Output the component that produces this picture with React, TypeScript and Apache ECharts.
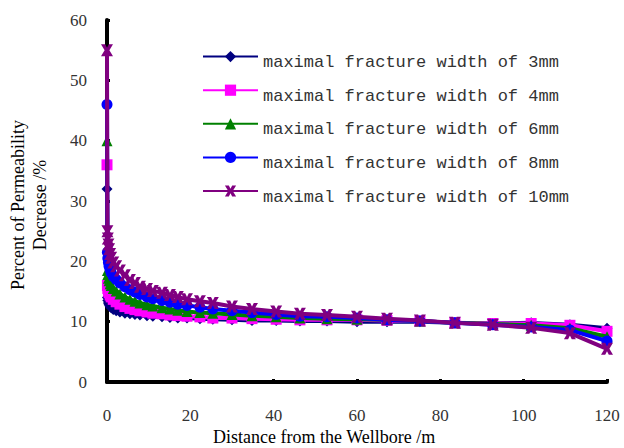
import React, { useEffect, useRef } from "react";
import * as echarts from "echarts";

const distances = [0, 0.1, 0.2, 0.35, 0.5, 0.75, 1.0, 1.5, 2.2, 3.1, 4.3, 5.5, 6.7, 7.9, 9.6, 11, 13.2, 15.1, 17, 19.2, 22.3, 25.4, 30, 34.8, 40.6, 46.3, 52.8, 60, 67.2, 75.1, 83.5, 92.6, 101.8, 111.1, 120];

const width3mm = [32, 14, 13.5, 13.1, 12.8, 12.5, 12.3, 12, 11.8, 11.6, 11.4, 11.3, 11.2, 11.1, 11, 10.9, 10.8, 10.7, 10.6, 10.6, 10.5, 10.4, 10.3, 10.2, 10.2, 10.1, 10.1, 10, 10, 10, 9.8, 9.7, 9.8, 9.5, 8.9];
const width4mm = [36, 16, 15.5, 15.1, 14.8, 14.4, 14.1, 13.7, 13.3, 12.9, 12.5, 12.2, 12, 11.8, 11.6, 11.4, 11.3, 11.1, 11, 10.9, 10.8, 10.6, 10.6, 10.5, 10.4, 10.3, 10.3, 10.3, 10.2, 10.1, 9.8, 9.7, 9.7, 9.4, 8.4];
const width6mm = [40, 18.5, 17.8, 17.2, 16.8, 16.3, 16, 15.5, 15.1, 14.6, 14.1, 13.7, 13.4, 13.1, 12.8, 12.6, 12.3, 12.1, 11.9, 11.7, 11.5, 11.4, 11.2, 11, 10.8, 10.6, 10.5, 10.4, 10.3, 10.1, 9.8, 9.6, 9.4, 8.9, 7.5];
const width8mm = [46, 21.5, 20.5, 19.8, 19.2, 18.6, 18.1, 17.5, 17, 16.4, 15.8, 15.3, 14.9, 14.5, 14.1, 13.8, 13.5, 13.2, 12.9, 12.7, 12.4, 12.1, 11.8, 11.5, 11.2, 10.9, 10.8, 10.6, 10.3, 10.1, 9.8, 9.5, 9.1, 8.6, 6.8];
const width10mm = [55, 25, 23.8, 22.8, 22, 21.2, 20.6, 19.8, 19.2, 18.5, 17.7, 16.9, 16.4, 15.8, 15.4, 15.1, 14.8, 14.4, 14.1, 13.7, 13.4, 13.1, 12.5, 12.1, 11.7, 11.3, 11.1, 10.8, 10.5, 10.2, 9.8, 9.5, 9.0, 8.1, 5.5];

const seriesNames = [
  "maximal fracture width of 3mm",
  "maximal fracture width of 4mm",
  "maximal fracture width of 6mm",
  "maximal fracture width of 8mm",
  "maximal fracture width of 10mm",
];
const seriesColors = ["#000080", "#ff00ff", "#008000", "#0000ff", "#800080"];
const seriesSymbols = [
  "diamond",
  "rect",
  "triangle",
  "circle",
  "path://M0,0 L3.5,0 L5,3 L6.5,0 L10,0 L7,5 L10,10 L6.5,10 L5,7 L3.5,10 L0,10 L3,5 Z",
];
const seriesValues = [width3mm, width4mm, width6mm, width8mm, width10mm];

const xTicks = { min: 0, max: 120, interval: 20 };
const yTicks = { min: 0, max: 60, interval: 10 };

const serif = "'Liberation Serif', 'Times New Roman', serif";

export default function App() {
  const ref = useRef<HTMLDivElement>(null);
  useEffect(() => {
    if (!ref.current) return;
    const chart = echarts.init(ref.current, null, { renderer: "svg" });
    const axisLabel = { fontFamily: serif, fontSize: 17, color: "#333" };
    chart.setOption({
      animation: false,
      backgroundColor: "#fff",
      grid: { left: 107, right: 17, top: 20, bottom: 66, containLabel: false },
      xAxis: {
        type: "value",
        min: xTicks.min,
        max: xTicks.max,
        interval: xTicks.interval,
        axisLine: { lineStyle: { color: "#000", width: 4 } },
        axisTick: { inside: true, length: 3, lineStyle: { color: "#000", width: 3 } },
        axisLabel: { ...axisLabel, margin: 25 },
        splitLine: { show: false },
      },
      yAxis: {
        type: "value",
        min: yTicks.min,
        max: yTicks.max,
        interval: yTicks.interval,
        axisLine: { show: true, lineStyle: { color: "#000", width: 4 } },
        axisTick: { show: true, inside: true, length: 3, lineStyle: { color: "#000", width: 3 } },
        axisLabel: { ...axisLabel, margin: 20 },
        splitLine: { show: false },
      },
      legend: {
        orient: "vertical",
        left: 197,
        top: 46,
        itemWidth: 55,
        itemHeight: 14,
        itemGap: 13.5,
        data: seriesNames,
        formatter: (name: string) => "{t|" + name + "}",
        textStyle: {
          fontFamily: "'Liberation Mono', monospace",
          fontSize: 17,
          color: "#333",
          rich: {
            t: {
              fontFamily: "'Liberation Mono', monospace",
              fontSize: 17,
              color: "#333",
              padding: [12, 0, 0, 0],
            },
          },
        },
      },
      graphic: [
        {
          type: "text",
          left: 213,
          top: 428,
          style: { text: "Distance from the Wellbore /m", fontFamily: serif, fontSize: 18, fill: "#000" },
        },
        {
          type: "text",
          x: 29,
          y: 205,
          rotation: Math.PI / 2,
          style: {
            text: "Percent of Permeability\nDecrease /%",
            fontFamily: serif,
            fontSize: 18,
            lineHeight: 22,
            fill: "#000",
            align: "center",
            verticalAlign: "middle",
          },
        },
      ],
      series: seriesValues.map((vals, i) => ({
        name: seriesNames[i],
        type: "line",
        data: distances.map((d, j) => [d, vals[j]]),
        symbol: seriesSymbols[i],
        symbolSize: i === 4 ? 12 : 11,
        showAllSymbol: true,
        lineStyle: { color: seriesColors[i], width: 4 },
        itemStyle: { color: seriesColors[i] },
        z: 2 + i,
      })),
    });
    return () => chart.dispose();
  }, []);
  return <div ref={ref} style={{ position: "fixed", left: 0, top: 0, width: 624, height: 448 }} />;
}
